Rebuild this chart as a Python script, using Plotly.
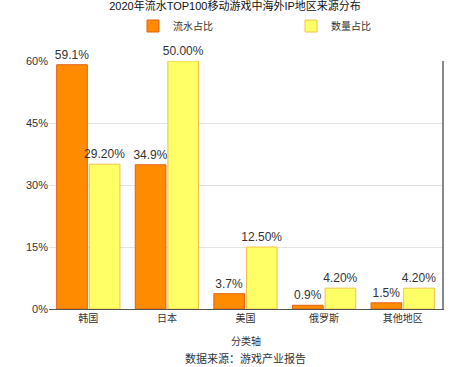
import plotly.graph_objects as go

categories = ["韩国", "日本", "美国", "俄罗斯", "其他地区"]
revenue_share = [59.1, 34.9, 3.7, 0.9, 1.5]
count_share = [29.2, 50.0, 12.5, 4.2, 4.2]
y_ticks = [0, 15, 30, 45, 60]
y_tick_labels = ["0%", "15%", "30%", "45%", "60%"]

FONT = "Liberation Sans, Noto Sans CJK SC, sans-serif"

fig = go.Figure()
fig.add_trace(go.Bar(
    name="流水占比", x=categories, y=revenue_share, yaxis="y", offsetgroup="1",
    marker=dict(color="#FF8C00", line=dict(color="#E5600F", width=1)),
    texttemplate="%{y:.1f}%", textposition="outside", cliponaxis=False,
    constraintext="none",
    textfont=dict(size=12, color="#333333", family=FONT),
))
fig.add_trace(go.Bar(
    name="数量占比", x=categories, y=count_share, yaxis="y2", offsetgroup="2",
    marker=dict(color="#FFFF66", line=dict(color="#EFC24A", width=1)),
    texttemplate="%{y:.2f}%", textposition="outside", cliponaxis=False,
    constraintext="none",
    textfont=dict(size=12, color="#333333", family=FONT),
))

fig.update_layout(
    width=470, height=367,
    margin=dict(l=49, r=28, t=61, b=58, autoexpand=False),
    paper_bgcolor="white", plot_bgcolor="white",
    font=dict(family=FONT, color="#333333"),
    barmode="group", bargap=0.17, bargroupgap=0.06,
    title=dict(text="2020年流水TOP100移动游戏中海外IP地区来源分布",
               x=0.5, xanchor="center", y=1 - 6 / 367, yanchor="middle",
               font=dict(size=11, color="#111111", family=FONT)),
    legend=dict(orientation="h", x=(133 - 49) / 393, xanchor="left", y=1 - 26 / 367,
                yref="container", yanchor="middle", itemwidth=30,
                entrywidth=113, font=dict(size=10, color="#333333")),
    showlegend=True,
    xaxis=dict(showgrid=False, showline=True, linecolor="#555555", linewidth=1,
               ticks="", tickfont=dict(size=10, color="#333333")),
    yaxis=dict(range=[0, 60], tickvals=y_ticks, ticktext=y_tick_labels,
               showgrid=True, gridcolor="#E3E3E3", gridwidth=1,
               zeroline=False, showline=False,
               tickfont=dict(size=11, color="#333333"), ticklen=0, ticks=""),
    yaxis2=dict(range=[0, 50], overlaying="y", side="right",
                showticklabels=False, showgrid=False, zeroline=False,
                showline=True, linecolor="#888888", linewidth=2, ticks=""),
    annotations=[
        dict(text="分类轴", x=0.5, xref="paper", y=-(341 - 309) / 248, yref="paper",
             showarrow=False, yanchor="middle", font=dict(size=10, color="#333333")),
        dict(text="数据来源：游戏产业报告", x=0.5, xref="paper", y=-(358 - 309) / 248,
             yref="paper", showarrow=False, yanchor="middle",
             font=dict(size=11, color="#333333")),
    ],
)

fig.write_html("out.html")
